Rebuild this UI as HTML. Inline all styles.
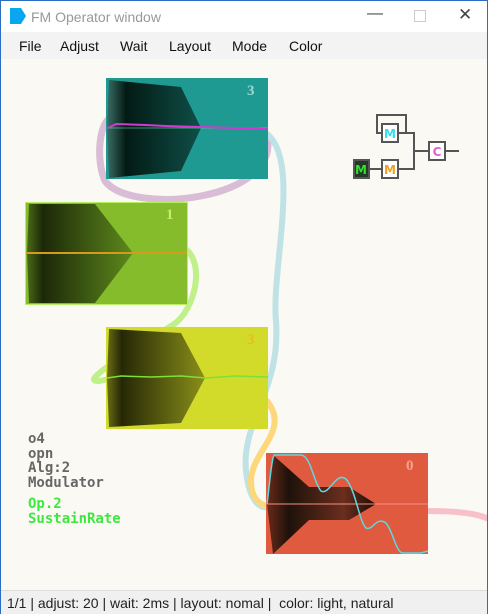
<!DOCTYPE html>
<html><head><meta charset="utf-8"><style>
body{margin:0;width:488px;height:614px;overflow:hidden;font-family:"Liberation Sans",sans-serif;background:#fff}
.win{position:absolute;left:0;top:0;width:486px;height:612px;border:1px solid #2b6cc4;background:#faf9f4}
.title{position:absolute;left:0;top:0;width:486px;height:31px;background:#fff}
.menu{position:absolute;left:0;top:31px;width:486px;height:27px;background:#f3f3f3;font-size:14px}
.menu span{position:absolute;top:6px;color:#111}
.status{position:absolute;left:0;top:589px;width:486px;height:23px;background:#f0f0f0;border-top:1px solid #ddd;font-size:14px;color:#222}
.info{position:absolute;left:27px;font:bold 14px "DejaVu Sans Mono","Liberation Mono",monospace;line-height:14.5px;color:#666}
</style></head><body>
<div class="win">
<div class="title">
 <svg style="position:absolute;left:9px;top:7px" width="16" height="16"><polygon points="0,0 11,0 16,8 11,16 0,16" fill="#0aa6f0"/></svg>
 <span style="position:absolute;left:30px;top:8px;font-size:14px;color:#999">FM Operator window</span>
 <span style="position:absolute;left:366px;top:4px;font-size:16px;color:#444">—</span>
 <span style="position:absolute;left:413px;top:9px;width:10px;height:10px;border:1px solid #ccc"></span>
 <span style="position:absolute;left:457px;top:4px;font-size:17px;color:#444">✕</span>
</div>
<div class="menu">
 <span style="left:18px">File</span>
 <span style="left:59px">Adjust</span>
 <span style="left:119px">Wait</span>
 <span style="left:168px">Layout</span>
 <span style="left:231px">Mode</span>
 <span style="left:288px">Color</span>
</div>
<svg style="position:absolute;left:0;top:0" width="486" height="589">
<defs>
 <linearGradient id="g3" x1="0" x2="1"><stop offset="0" stop-color="#3a6e66"/><stop offset=".2" stop-color="#031a14"/><stop offset="1" stop-color="#0f4f48"/></linearGradient>
 <linearGradient id="g1" x1="0" x2="1"><stop offset="0" stop-color="#4b6a18"/><stop offset=".15" stop-color="#1c2808"/><stop offset="1" stop-color="#5e8a1c"/></linearGradient>
 <linearGradient id="g2" x1="0" x2="1"><stop offset="0" stop-color="#6a6e14"/><stop offset=".15" stop-color="#262806"/><stop offset="1" stop-color="#8a8f1a"/></linearGradient>
 <linearGradient id="g0" x1="0" x2="1"><stop offset="0" stop-color="#6a2a1a"/><stop offset=".2" stop-color="#1e120a"/><stop offset=".7" stop-color="#6a2e1e"/><stop offset="1" stop-color="#1e0c06"/></linearGradient>
</defs>
<g fill="none" stroke-linecap="round">
 <path d="M266,135 C280,200 130,215 104,180 C95,160 98,125 108,118" stroke="#d9bcd6" stroke-width="7"/>
 <path d="M266,133 C300,160 270,270 275,320 C280,390 240,420 245,470 C248,500 260,510 268,505" stroke="#bfe2e6" stroke-width="6"/>
 <path d="M187,250 C205,270 190,315 170,325 C140,345 60,390 108,378" stroke="#bff08a" stroke-width="6"/>
 <path d="M266,400 C290,430 250,450 250,480 C250,500 262,505 268,505" stroke="#fcd87a" stroke-width="6"/>
 <path d="M426,510 C455,510 475,512 488,518" stroke="#f8c0c8" stroke-width="6"/>
</g>
<g>
 <rect x="105" y="77" width="162" height="101" fill="#1f9a93"/>
 <polygon points="108,79 180,86 200,127 180,170 108,177 106,127" fill="url(#g3)"/>
 <line x1="106" y1="127" x2="267" y2="127" stroke="#6fb" stroke-opacity=".5"/>
 <polyline points="107,127 115,123 145,124 165,125 200,126 235,127 267,128" fill="none" stroke="#d03ad0" stroke-width="2"/>
 <text x="246" y="94" font-size="15" font-weight="bold" fill="#9cd8d4" font-family="Liberation Serif">3</text>
</g>
<g>
 <rect x="24.5" y="201.5" width="162" height="102" fill="#84bc2c" stroke="#b6f060"/>
 <polygon points="28,203 94,203 132,252 94,302 28,302 26,252" fill="url(#g1)"/>
 <line x1="25" y1="252" x2="186" y2="252" stroke="#d89a1a" stroke-width="2"/>
 <text x="165" y="218" font-size="15" font-weight="bold" fill="#c8ee70" font-family="Liberation Serif">1</text>
</g>
<g>
 <rect x="105" y="326" width="162" height="102" fill="#d2db2a"/>
 <polygon points="108,328 180,332 204,377 180,422 108,426 106,377" fill="url(#g2)"/>
 <polyline points="106,377 120,375 150,376 180,375 205,377 235,375 267,376" fill="none" stroke="#7ce03a" stroke-width="1.5"/>
 <text x="246" y="343" font-size="15" font-weight="bold" fill="#f0b820" font-family="Liberation Serif">3</text>
</g>
<g>
 <rect x="265" y="452" width="162" height="101" fill="#df5a3f"/>
 <polygon points="272,454 308,486 348,486 375,503 348,519 308,519 272,553 266,503" fill="url(#g0)"/>
 <line x1="266" y1="503" x2="427" y2="503" stroke="#f49080"/>
 <path d="M266,503 C268,490 270,460 273,454 L300,454 C310,455 312,480 320,490 C328,495 335,470 345,478 C355,490 358,520 365,527 C372,530 375,515 385,522 C392,530 395,552 402,552 L420,552 L427,550" fill="none" stroke="#5ed8e0" stroke-width="1.5"/>
 <text x="405" y="469" font-size="15" font-weight="bold" fill="#f8a090" font-family="Liberation Serif">0</text>
</g>
<g fill="none" stroke="#555" stroke-width="2">
 <path d="M376,132 L376,114 L405,114 L405,132 M375,132 L381,132 M398,132 L413,132 L413,168 L398,168 M413,150 L428,150 M443,150 L458,150 M368,168 L381,168"/>
 <rect x="381" y="123" width="16" height="18" fill="#fff"/>
 <rect x="381" y="159" width="16" height="18" fill="#fff"/>
 <rect x="428" y="141" width="16" height="18" fill="#fff"/>
 <rect x="353" y="159" width="15" height="18" fill="#253a25"/>
</g>
<g font-family="DejaVu Sans" font-size="12" font-weight="bold" text-anchor="middle">
 <text x="389" y="137" fill="#30e0f0">M</text>
 <text x="389" y="173" fill="#f0a020">M</text>
 <text x="436" y="155" fill="#e060d0">C</text>
 <text x="360" y="173" fill="#30e030">M</text>
</g>
</svg>
<div class="info" style="top:431px">o4<br>opn<br>Alg:2<br>Modulator</div>
<div class="info" style="top:496px;color:#3ee83e">Op.2<br>SustainRate</div>
<div class="status"><span style="position:absolute;left:6px;top:4px">1/1 | adjust: 20 | wait: 2ms | layout: nomal |&nbsp; color: light, natural</span></div>
</div>
</body></html>
